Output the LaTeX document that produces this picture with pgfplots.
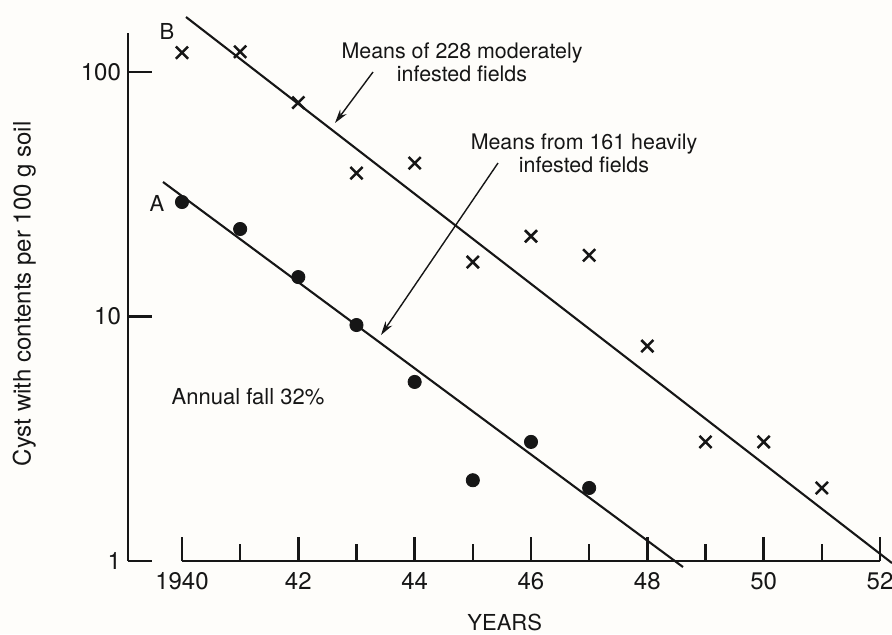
\documentclass[border=0pt]{standalone}
\usepackage{pgfplots}
\pgfplotsset{compat=1.18}
\usepackage{fontspec}
\setmainfont{TeX Gyre Heros}
\usetikzlibrary{arrows.meta}
\definecolor{bg}{RGB}{254,253,250}
\definecolor{ink}{RGB}{22,22,22}
\begin{document}
\begin{tikzpicture}
\path[use as bounding box, fill=bg] (0,0) rectangle (446pt,-317pt);
\begin{axis}[
  at={(64pt,-280.5pt)}, anchor=south west,
  scale only axis, width=376pt, height=264pt,
  xmin=1939.072, xmax=1952, ymin=1, ymax=144.4,
  ymode=log, clip=false,
  axis lines=left, axis line style={draw=none,-},
  tick align=inside,
  xtick={1940,1942,...,1952}, xticklabels={1940,42,44,46,48,50,52},
  minor xtick={1941,1943,...,1951},
  ytick={1,10,100}, yticklabels={1,10,100},
  yminorticks=false,
  major tick length=12pt, minor tick length=8.5pt,
  tick style={ink, line width=1.2pt},
  tick label style={font=\fontsize{12}{14}\selectfont, text=ink},
  xticklabel style={yshift=-2pt},
  /pgf/number format/assume math mode=true,
  xlabel={YEARS}, ylabel={Cyst with contents per 100 g soil},
  xlabel style={at={(rel axis cs:0.501,-0.1155)}, anchor=center, font=\fontsize{11}{13}\selectfont, text=ink},
  ylabel style={at={(rel axis cs:-0.138,0.506)}, anchor=center, font=\fontsize{12}{14}\selectfont, text=ink},
]
% axis lines (broken style as in the original)
\draw[ink, line width=1.3pt] (axis cs:1939.072,1) -- (axis cs:1939.072,144.4);
\draw[ink, line width=1.3pt] (axis cs:1940,1) -- (axis cs:1952,1);
% B: means of 228 moderately infested fields
\addplot[only marks, mark=x, mark size=4.3pt, mark options={line width=1.25pt}, ink]
  coordinates {(1940,120) (1941,121) (1942,75) (1943,38.6) (1944,42.4) (1945,16.7)
               (1946,21.3) (1947,17.8) (1948,7.57) (1949,3.07) (1950,3.07) (1951,1.99)};
% A: means from 161 heavily infested fields
\addplot[only marks, mark=*, mark size=3.3pt, ink]
  coordinates {(1940,29.4) (1941,22.8) (1942,14.5) (1943,9.23) (1944,5.4)
               (1945,2.14) (1946,3.07) (1947,1.99)};
% fitted lines
\addplot[ink, line width=1.05pt] coordinates {(1939.674,35.5) (1948.613,0.945)};
\addplot[ink, line width=1.05pt] coordinates {(1940.069,167.9) (1952.206,0.981)};
\end{axis}
\node[ink, font=\fontsize{11}{13}\selectfont] at (83.5pt,-15.5pt) {B};
\node[ink, font=\fontsize{11}{13}\selectfont] at (78.5pt,-101.5pt) {A};
\node[ink, align=center, font=\fontsize{10.7}{11.5}\selectfont] at (231pt,-31pt) {Means of 228 moderately\\infested fields};
\draw[ink, line width=0.7pt, -{Stealth[length=7pt,width=4pt]}] (186.5pt,-36pt) -- (167.5pt,-61.5pt);
\node[ink, align=center, font=\fontsize{10.7}{11.5}\selectfont] at (292pt,-76.5pt) {Means from 161 heavily\\infested fields};
\draw[ink, line width=0.7pt, -{Stealth[length=7pt,width=4pt]}] (249pt,-81.5pt) -- (190.5pt,-167.5pt);
\node[ink, font=\fontsize{11}{13}\selectfont] at (124pt,-198.5pt) {Annual fall 32\%};
\end{tikzpicture}
\end{document}
